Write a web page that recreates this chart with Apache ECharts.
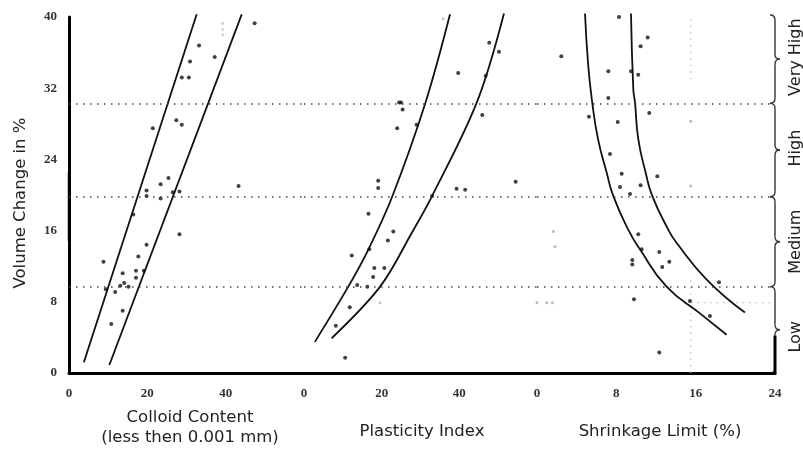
<!DOCTYPE html>
<html><head><meta charset="utf-8">
<script src="https://cdn.jsdelivr.net/npm/echarts@6/dist/echarts.min.js"></script>
<style>html,body{margin:0;padding:0;background:#fff}#c{width:803px;height:449px}</style>
</head><body><div id="c"></div>
<script>
// ---- data ----
const yTicks = [0, 8, 16, 24, 32, 40];
const zoneLevels = [9.7, 19.8, 30.3];
const zoneNames = ['Low', 'Medium', 'High', 'Very High'];

const colloidLineLeft = [[3.8, 1.2], [32.6, 40.3]];
const colloidLineRight = [[10.3, 0.9], [44.1, 40.3]];
const colloidPoints = [
  [47.4, 39.3], [33.2, 36.8], [37.2, 35.5], [30.9, 35.0], [28.8, 33.2], [30.6, 33.2],
  [27.4, 28.4], [28.8, 27.9], [21.4, 27.5], [25.4, 21.9], [23.4, 21.2], [43.3, 21.0],
  [19.8, 20.5], [19.8, 19.9], [23.4, 19.6], [26.5, 20.3], [28.2, 20.4], [16.4, 17.8],
  [28.2, 15.6], [19.8, 14.4], [8.8, 12.5], [17.7, 13.1], [13.7, 11.2], [17.1, 11.5],
  [19.1, 11.5], [17.1, 10.7], [14.1, 10.1], [13.1, 9.8], [15.2, 9.7], [9.4, 9.4],
  [11.8, 9.1], [13.7, 7.0], [10.8, 5.5]
];
const colloidFaint = [[39.2, 39.3], [39.2, 38.6], [39.2, 38.0]];

const plasticityLineLeft = [[2.8, 3.5], [11.4, 9.7], [16.6, 13.9], [22.7, 19.8], [31.3, 30.4], [37.6, 40.3]];
const plasticityLineRight = [[7.1, 3.9], [19.6, 9.7], [27.7, 15.7], [33.0, 19.9], [44.5, 30.4], [51.5, 40.4]];
const plasticityPoints = [
  [47.7, 37.1], [50.2, 36.1], [39.7, 33.7], [46.8, 33.4], [24.5, 30.4], [25.0, 30.4],
  [25.4, 29.6], [24.0, 27.5], [29.0, 27.9], [45.9, 29.0], [19.1, 21.6], [19.1, 20.8],
  [39.3, 20.7], [41.5, 20.6], [54.5, 21.5], [33.0, 19.9], [16.6, 17.9], [23.0, 15.9],
  [21.6, 14.9], [12.3, 13.2], [16.8, 13.9], [18.1, 11.8], [20.7, 11.8], [17.8, 10.8],
  [13.7, 9.9], [16.3, 9.7], [11.8, 7.4], [8.2, 5.3], [10.6, 1.7]
];
const plasticityFaint = [[35.8, 39.8], [19.6, 7.9]];

const shrinkLineLeft = [[4.84, 40.4], [5.17, 34.5], [5.57, 30.4], [6.15, 26.3], [7.03, 22.5], [7.69, 19.9],
  [9.20, 16.1], [10.38, 13.9], [13.07, 9.7], [16.43, 6.7], [19.12, 4.3]];
const shrinkLineRight = [[9.48, 40.4], [9.71, 31.9], [9.88, 30.4], [10.21, 26.3], [10.96, 22.5], [11.62, 19.9],
  [13.24, 16.1], [14.09, 14.6], [17.11, 10.5], [20.97, 6.8]];
const shrinkPoints = [
  [8.27, 40.0], [11.16, 37.7], [10.45, 36.7], [2.45, 35.6], [7.19, 33.9], [9.48, 33.9],
  [10.21, 33.5], [7.19, 30.9], [11.32, 29.2], [5.24, 28.8], [8.14, 28.2], [7.36, 24.6],
  [8.54, 22.4], [12.13, 22.1], [8.37, 20.9], [10.45, 21.1], [9.38, 20.1], [10.21, 15.6],
  [10.55, 13.9], [12.33, 13.6], [13.34, 12.5], [12.63, 11.9], [9.61, 12.7], [9.61, 12.2],
  [18.35, 10.2], [9.78, 8.3], [15.42, 8.1], [17.44, 6.4], [12.33, 2.3]
];
const shrinkFaint = [[1.66, 15.9], [1.81, 14.2], [0.0, 7.9], [0.98, 7.9], [1.55, 7.9], [15.5, 28.3], [15.5, 21.0]];
const shrinkGuideV1 = [[15.5, 0], [15.5, 10.5]];
const shrinkGuideV2 = [[15.5, 33], [15.5, 40]];
const shrinkGuideH = [[15.5, 7.9], [24, 7.9]];

const xNames = ['Colloid Content\n(less then 0.001 mm)', 'Plasticity Index', 'Shrinkage Limit (%)'];
const yName = 'Volume Change in %';

// ---- chart ----
const chart = echarts.init(document.getElementById('c'), null, {renderer: 'canvas'});
const serif = {fontFamily: 'Liberation Serif', fontWeight: 'bold', fontSize: 13, color: '#333'};
const grids = [
  {left: 69, top: 17, width: 235, height: 356, outerBoundsMode: 'none'},
  {left: 304, top: 17, width: 233, height: 356, outerBoundsMode: 'none'},
  {left: 537, top: 17, width: 238, height: 356, outerBoundsMode: 'none'}
];
const xRanges = [[0, 60, 20], [0, 60, 20], [0, 24, 8]];
const xAxes = xRanges.map((r, i) => ({
  type: 'value', gridIndex: i, min: r[0], max: r[1], interval: r[2],
  axisLine: {show: true, onZero: false, lineStyle: {color: '#000', width: 3}},
  axisTick: {show: false}, splitLine: {show: false},
  axisLabel: Object.assign({margin: 14, showMaxLabel: i === 2, showMinLabel: true}, serif)
}));
const yAxes = [0, 1, 2].map(i => ({
  type: 'value', gridIndex: i, min: yTicks[0], max: yTicks[yTicks.length - 1], interval: 8,
  show: i === 0,
  axisLine: {show: true, lineStyle: {color: '#000', width: 3}},
  axisTick: {show: false}, splitLine: {show: false},
  axisLabel: Object.assign({margin: 12}, serif)
}));

function curve(g, data, sm) {
  return {type: 'line', xAxisIndex: g, yAxisIndex: g, data: data, smooth: sm,
    showSymbol: false, clip: false, silent: true, lineStyle: {color: '#111', width: 1.8}, z: 3};
}
function dots(g, data, color, size) {
  return {type: 'scatter', xAxisIndex: g, yAxisIndex: g, data: data, symbolSize: size,
    itemStyle: {color: color}, silent: true, z: 4};
}
function guide(g, data) {
  return {type: 'line', xAxisIndex: g, yAxisIndex: g, data: data, showSymbol: false, silent: true,
    lineStyle: {color: '#bbb', width: 1.2, type: [1.5, 5]}, z: 2};
}
function zones(g) {
  return {type: 'scatter', xAxisIndex: g, yAxisIndex: g, data: [], silent: true,
    markLine: {silent: true, symbol: 'none', label: {show: false},
      lineStyle: {color: '#444', width: 1.5, type: [1.5, 5.5]},
      data: zoneLevels.map(v => ({yAxis: v}))}};
}

chart.setOption({
  animation: false,
  backgroundColor: '#fff',
  grid: grids, xAxis: xAxes, yAxis: yAxes,
  series: [
    zones(0), zones(1), zones(2),
    curve(0, colloidLineLeft, false), curve(0, colloidLineRight, false),
    dots(0, colloidPoints, '#111', 4), dots(0, colloidFaint, '#c8c8c8', 3),
    curve(1, plasticityLineLeft, 0.35), curve(1, plasticityLineRight, 0.35),
    dots(1, plasticityPoints, '#111', 4), dots(1, plasticityFaint, '#bbb', 3),
    curve(2, shrinkLineLeft, 0.5), curve(2, shrinkLineRight, 0.5),
    dots(2, shrinkPoints, '#111', 4), dots(2, shrinkFaint, '#aaa', 3),
    guide(2, shrinkGuideV1), guide(2, shrinkGuideV2), guide(2, shrinkGuideH)
  ]
});

// ---- annotations ----
const px = (v) => chart.convertToPixel({gridIndex: 2}, [24, v]);
const rightX = px(0)[0];
const bounds = [0].concat(zoneLevels).concat([40]);
const graphics = [];
const braceStyle = {fill: null, stroke: '#333', lineWidth: 1.4};
function brace(x0, yTop, yBot) {
  const s = x0 + 5, t = x0 + 10, m = (yTop + yBot) / 2;
  const parts = [
    {type: 'bezierCurve', shape: {x1: x0, y1: yTop, cpx1: s, cpy1: yTop, x2: s, y2: yTop + 5}},
    {type: 'line', shape: {x1: s, y1: yTop + 5, x2: s, y2: m - 5}},
    {type: 'bezierCurve', shape: {x1: s, y1: m - 5, cpx1: s, cpy1: m, x2: t, y2: m}},
    {type: 'bezierCurve', shape: {x1: t, y1: m, cpx1: s, cpy1: m, x2: s, y2: m + 5}},
    {type: 'line', shape: {x1: s, y1: m + 5, x2: s, y2: yBot - 5}},
    {type: 'bezierCurve', shape: {x1: s, y1: yBot - 5, cpx1: s, cpy1: yBot, x2: x0, y2: yBot}}
  ];
  parts.forEach(p => { p.style = braceStyle; graphics.push(p); });
}
const labelShift = [7, 0, -2, -2];
for (let i = 0; i < zoneNames.length; i++) {
  const yb = px(bounds[i])[1], yt = px(bounds[i + 1])[1] - (i === 3 ? 2 : 0);
  brace(rightX - 5, yt, yb);
  graphics.push({type: 'text', x: 796, y: (yt + yb) / 2 + labelShift[i], rotation: Math.PI / 2,
    style: {text: zoneNames[i], font: '16px "DejaVu Sans"', fill: '#222', align: 'center', verticalAlign: 'middle'}});
}
// thick right axis segment
graphics.push({type: 'line', shape: {x1: rightX, y1: px(4.2)[1], x2: rightX, y2: px(0)[1] + 1},
  style: {stroke: '#000', lineWidth: 3}});
// gray patch on the left axis
const lp = (v) => chart.convertToPixel({gridIndex: 0}, [0, v]);
graphics.push({type: 'line', shape: {x1: lp(0)[0], y1: lp(22.6)[1], x2: lp(0)[0], y2: lp(14.8)[1]},
  style: {stroke: '#8a8a8a', lineWidth: 3}});
// axis names
graphics.push({type: 'text', x: 21, y: 203, rotation: Math.PI / 2,
  style: {text: yName, font: '16.5px "DejaVu Sans"', fill: '#222', align: 'center', verticalAlign: 'middle'}});
const nameX = [190, 422, 660];
const nameY = [428, 432, 432];
xNames.forEach((n, i) => {
  graphics.push({type: 'text', x: nameX[i], y: nameY[i],
    style: {text: n, font: '16.5px "DejaVu Sans"', lineHeight: 20, fill: '#222', align: 'center', verticalAlign: 'middle'}});
});
chart.setOption({graphic: graphics});
</script></body></html>
